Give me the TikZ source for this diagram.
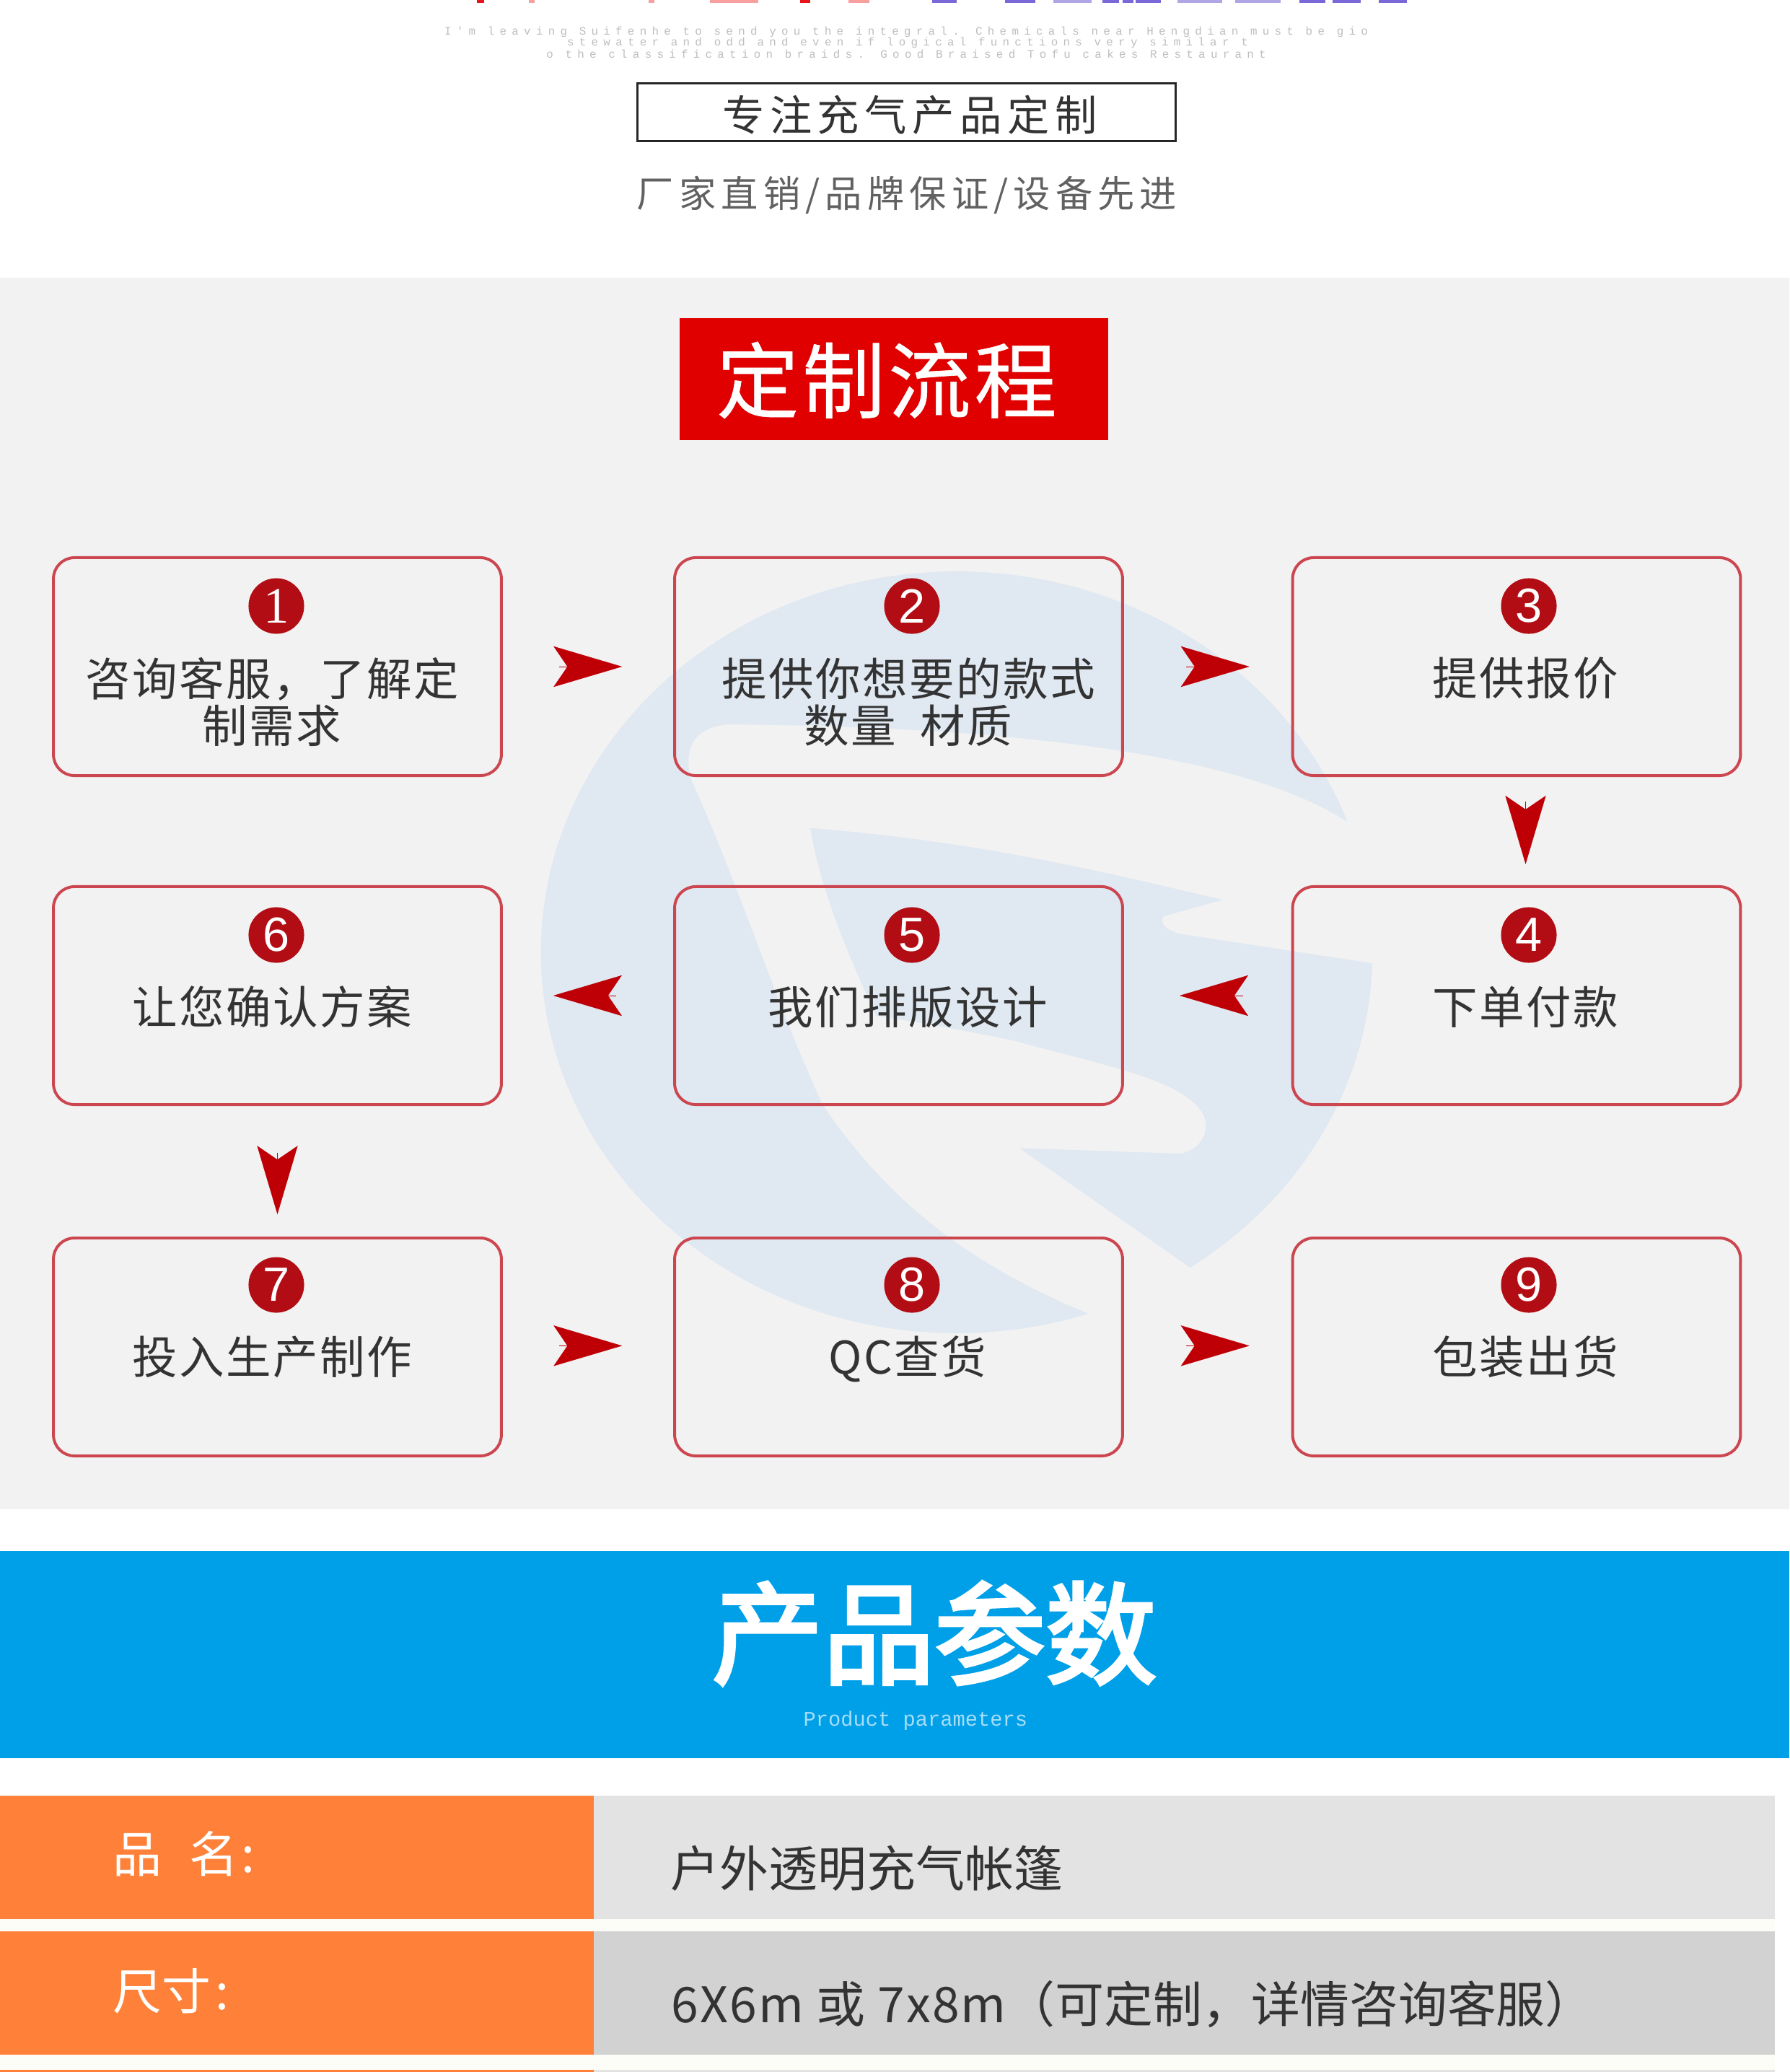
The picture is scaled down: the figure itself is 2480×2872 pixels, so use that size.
\documentclass[tikz,border=0pt]{standalone}
\usepackage{fontspec}
\usetikzlibrary{arrows.meta,calc}
\newfontfamily\cjk{Noto Sans CJK SC}
\newfontfamily\cjkheavy[FakeBold=3]{Noto Sans CJK SC}
\newfontfamily\cjkmid[FakeBold=.5]{Noto Sans CJK SC}
\newfontfamily\monof{Liberation Mono}
\newfontfamily\digitf{Liberation Sans}
\newfontfamily\digitser{Liberation Serif}
\definecolor{panelgrey}{HTML}{F2F2F2}
\definecolor{wmblue}{HTML}{E0E8F1}
\definecolor{boxred}{HTML}{CC4650}
\definecolor{dotred}{HTML}{B20D14}
\definecolor{arrowred}{HTML}{BE0006}
\definecolor{titlered}{HTML}{E00000}
\definecolor{bandblue}{HTML}{00A0E9}
\definecolor{rowor}{HTML}{FF8038}
\definecolor{rowa}{HTML}{E3E3E3}
\definecolor{rowb}{HTML}{D2D2D2}
\definecolor{ivory}{HTML}{FDFDF7}
\definecolor{inkc}{HTML}{333333}
\definecolor{tinyc}{HTML}{BEBEBE}
\definecolor{topv}{HTML}{7B68D8}
\definecolor{topvl}{HTML}{B0A6E6}
\definecolor{topr}{HTML}{E8141C}
\definecolor{topp}{HTML}{F8A0A0}
\tikzset{
  stepbox/.style={draw=boxred,line width=.95pt,rounded corners=7pt,minimum width=149pt,minimum height=72.5pt,inner sep=0pt},
  numdot/.style={circle,fill=dotred,minimum size=18.5pt,inner sep=0pt,text=white,font=\digitf\fontsize{16pt}{16pt}\selectfont},
  numdotb/.style={numdot,font=\digitser\fontsize{17pt}{17pt}\selectfont},
  steptext/.style={text=inkc,align=center,inner sep=0pt,font=\cjk\addfontfeature{LetterSpace=4}\fontsize{15pt}{15.6pt}\selectfont},
  flowtip/.style={draw=arrowred,line width=.1pt,-{Stealth[length=22.8pt,width=13.5pt,inset=4.6pt,fill=arrowred]}},
  tinyline/.style={text=tinyc,inner sep=0pt,font=\monof\addfontfeature{LetterSpace=46}\fontsize{3.8pt}{3.8pt}\selectfont},
  rowlabel/.style={anchor=west,text=white,inner sep=0pt,font=\cjk\fontsize{16.3pt}{16.3pt}\selectfont},
  rowvalue/.style={anchor=west,text=inkc,inner sep=0pt,font=\cjk\fontsize{16.3pt}{16.3pt}\selectfont}
}
\begin{document}
\begin{tikzpicture}[x=.24pt,y=-.24pt]
\useasboundingbox (0,0) rectangle (2480,2872);
\fill[white] (0,0) rectangle (2480,2872);
% cropped heading fragments at the top edge
\foreach \a/\b/\c in {661/671/topr,733/741/topp,899/907/topp,984/1051/topp,1109/1123/topr,1176/1205/topp,
  1292/1326/topv,1393/1435/topv,1460/1513/topvl,1528/1551/topv,1556/1571/topv,1574/1609/topv,1632/1694/topvl,1712/1775/topvl,1801/1837/topv,1847/1886/topv,1911/1950/topv}
  \fill[\c] (\a,0) rectangle (\b,4);
\node[tinyline] (tiny1) at (1256,44) {I'm leaving Suifenhe to send you the integral. Chemicals near Hengdian must be gio};
\node[tinyline] (tiny2) at (1258,59) {stewater and odd and even if logical functions very similar t};
\node[tinyline] (tiny3) at (1256,75) {o the classification braids. Good Braised Tofu cakes Restaurant};
% tag line
\node[draw=black!85,line width=.7pt,minimum width=179pt,minimum height=19.4pt,inner sep=0pt] (tagbox) at (1256.5,155.5) {};
\node[text=inkc,inner sep=0pt,font=\cjk\addfontfeature{LetterSpace=13}\fontsize{14pt}{14pt}\selectfont] (tagtext) at (1261,159) {专注充气产品定制};
\node[text=black!62,inner sep=0pt,font=\cjk\addfontfeature{LetterSpace=14}\fontsize{12.3pt}{12.3pt}\selectfont] (subtext) at (1257,270) {厂家直销/品牌保证/设备先进};
% grey panel
\fill[panelgrey] (0,385) rectangle (2480,2092);
% watermark
\begin{scope}
\clip (1326,1320) ellipse [x radius=138.3pt,y radius=126.7pt];
\begin{scope}[shift={(700,750)},x=.199pt,y=-.1836pt]
\fill[wmblue] (1410,510) -- (1600,510) -- (1600,-100) -- (-100,-100) -- (-100,1600) -- (980,1600) -- (975,1400)
  .. controls (820,1330) and (660,1230) .. (530,1020)
  .. controls (450,830) and (390,620) .. (310,430)
  .. controls (300,380) and (310,340) .. (370,332)
  .. controls (700,335) and (1200,360) .. (1410,510) -- cycle;
\fill[wmblue] (510,520) .. controls (800,545) and (1000,600) .. (1200,650)
  -- (1100,680) .. controls (1095,695) and (1105,705) .. (1130,712)
  -- (1600,790) -- (1600,1500) -- (1150,1320) -- (860,1100) -- (1130,1110)
  .. controls (1170,1100) and (1180,1060) .. (1165,1035)
  .. controls (1130,975) and (1000,950) .. (850,905)
  .. controls (760,885) and (680,870) .. (620,860)
  .. controls (570,740) and (530,640) .. (510,520) -- cycle;
\end{scope}
\end{scope}
% title
\node[fill=titlered,minimum width=142.6pt,minimum height=40.6pt,inner sep=0pt] (titlebox) at (1239,525.5) {};
\node[text=white,inner sep=0pt,font=\cjkmid\addfontfeature{LetterSpace=4}\fontsize{27.5pt}{27.5pt}\selectfont] (titletext) at (1229,527) {定制流程};
% step boxes
\node[stepbox] (b1) at (384.5,924) {};
\node[stepbox] (b2) at (1245.5,924) {};
\node[stepbox] (b3) at (2102,924) {};
\node[stepbox] (b6) at (384.5,1380) {};
\node[stepbox] (b5) at (1245.5,1380) {};
\node[stepbox] (b4) at (2102,1380) {};
\node[stepbox] (b7) at (384.5,1867) {};
\node[stepbox] (b8) at (1245.5,1867) {};
\node[stepbox] (b9) at (2102,1867) {};
% number dots
\node[numdotb] (n1) at (383,840) {1};
\node[numdot] (n2) at (1264,840) {2};
\node[numdot] (n3) at (2119,840) {3};
\node[numdot] (n6) at (383,1296) {6};
\node[numdot] (n5) at (1264,1296) {5};
\node[numdot] (n4) at (2119,1296) {4};
\node[numdot] (n7) at (383,1781) {7};
\node[numdot] (n8) at (1264,1781) {8};
\node[numdot] (n9) at (2119,1781) {9};
% step texts
\node[steptext] (t1) at (377,973) {咨询客服，了解定\\制需求};
\node[steptext] (t2) at (1259,973) {提供你想要的款式\\数量\hspace{8pt}材质};
\node[steptext] (t3) at (2114,940) {提供报价};
\node[steptext] (t6) at (377,1396) {让您确认方案};
\node[steptext] (t5) at (1258,1396) {我们排版设计};
\node[steptext] (t4) at (2114,1396) {下单付款};
\node[steptext] (t7) at (377,1881) {投入生产制作};
\node[steptext] (t8) at (1258,1884) {QC查货};
\node[steptext] (t9) at (2114,1881) {包装出货};
% flow arrows
\draw[flowtip,shorten <=18.8pt,shorten >=17pt] (b1) -- (b2);
\draw[flowtip,shorten <=20.7pt,shorten >=13.9pt] (b2) -- (b3);
\draw[flowtip,shorten <=16.1pt,shorten >=18.5pt] (b4) -- (b5);
\draw[flowtip,shorten <=19pt,shorten >=16.8pt] (b5) -- (b6);
\draw[flowtip,shorten <=18.8pt,shorten >=17pt] ([yshift=.4pt]b7.east) -- ([yshift=.4pt]b8.west);
\draw[flowtip,shorten <=20.7pt,shorten >=13.9pt] ([yshift=.4pt]b8.east) -- ([yshift=.4pt]b9.west);
\draw[flowtip,shorten <=8.2pt,shorten >=7pt] ([xshift=3pt]b3.south) -- ([xshift=3pt]b4.north);
\draw[flowtip,shorten <=15.5pt,shorten >=7.4pt] (b6.south) -- (b7.north);
% parameters band
\fill[bandblue] (0,2150) rectangle (2480,2437);
\node[text=white,inner sep=0pt,font=\cjkheavy\fontsize{37pt}{37pt}\selectfont] (bandtitle) at (1295,2264) {产品参数};
\node[text=white!65!bandblue,inner sep=0pt,font=\monof\fontsize{6.9pt}{6.9pt}\selectfont] (bandsub) at (1269,2385) {Product parameters};
% rows
\fill[ivory] (0,2660) rectangle (2460,2677);
\fill[ivory] (0,2848) rectangle (2460,2869);
\fill[rowor] (0,2489) rectangle (823,2660);
\fill[rowa] (823,2489) rectangle (2460,2660);
\fill[rowor] (0,2677) rectangle (823,2848);
\fill[rowb] (823,2677) rectangle (2460,2848);
\fill[rowor] (0,2869) rectangle (823,2872);
\fill[rowa] (823,2869) rectangle (2460,2872);
\node[rowlabel] (l1) at (156,2570) {品\hspace{9pt}名\hspace{1pt}:};
\node[rowlabel] (l2) at (156,2760) {尺寸\hspace{1.5pt}:};
\node[rowvalue] (v1) at (929,2590) {户外透明充气帐篷};
\node[rowvalue] (v2) at (930,2778) {{\addfontfeature{LetterSpace=3}6X6m 或 7x8m}（可定制，详情咨询客服）};
\end{tikzpicture}
\end{document}
